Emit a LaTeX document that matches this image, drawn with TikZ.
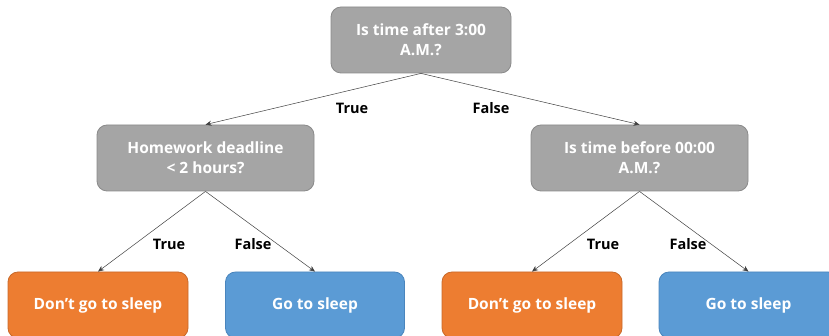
\documentclass[tikz,border=0pt]{standalone}
\usepackage{fontspec}
\setmainfont{Open Sans}
\usetikzlibrary{arrows.meta}
\definecolor{boxgray}{HTML}{A5A5A5}
\definecolor{boxgrayline}{HTML}{8A8A8A}
\definecolor{boxorange}{HTML}{ED7D31}
\definecolor{boxorangeline}{HTML}{C8692A}
\definecolor{boxblue}{HTML}{5B9BD5}
\definecolor{boxblueline}{HTML}{4A85BD}
\begin{document}
\begin{tikzpicture}[x=1pt,y=-1pt,
  box/.style={rounded corners=10pt, line width=0.8pt, minimum height=66pt,
    text=white, font=\fontsize{15.5}{20}\selectfont\bfseries, align=center, inner sep=0pt},
  graybox/.style={box, fill=boxgray, draw=boxgrayline, minimum width=180pt},
  midbox/.style={box, fill=boxgray, draw=boxgrayline, minimum width=217pt},
  orangebox/.style={box, fill=boxorange, draw=boxorangeline, minimum width=180pt},
  bluebox/.style={box, fill=boxblue, draw=boxblueline, minimum width=179pt},
  conn/.style={draw=black!75, line width=0.5pt, -{Stealth[length=6pt,width=5pt]}},
  lbl/.style={font=\fontsize{14.5}{17}\selectfont\bfseries, text=black, inner sep=0pt}]
\useasboundingbox (0,0) rectangle (829,336);
\begin{scope}
\clip (0,0) rectangle (829,336);
\node[graybox] (root) at (421,40) {Is time after 3:00\\A.M.?};
\node[midbox] (hw) at (205.5,158) {Homework deadline\\< 2 hours?};
\node[midbox] (tb) at (639.5,158) {Is time before 00:00\\A.M.?};
\node[orangebox] (l1) at (98,305) {Don’t go to sleep};
\node[bluebox] (l2) at (315,305) {Go to sleep};
\node[orangebox] (l3) at (532,305) {Don’t go to sleep};
\node[bluebox] (l4) at (748.5,305) {Go to sleep};
\draw[conn] (root.south) -- (hw.north);
\draw[conn] (root.south) -- (tb.north);
\draw[conn] (hw.south) -- (l1.north);
\draw[conn] (hw.south) -- (l2.north);
\draw[conn] (tb.south) -- (l3.north);
\draw[conn] (tb.south) -- (l4.north);
\end{scope}
\node[lbl] (t1) at (352,108) {True};
\node[lbl] (f1) at (491,108) {False};
\node[lbl] (t2) at (169,244) {True};
\node[lbl] (f2) at (253,244) {False};
\node[lbl] (t3) at (603,244) {True};
\node[lbl] (f3) at (688,244) {False};
\end{tikzpicture}
\end{document}
